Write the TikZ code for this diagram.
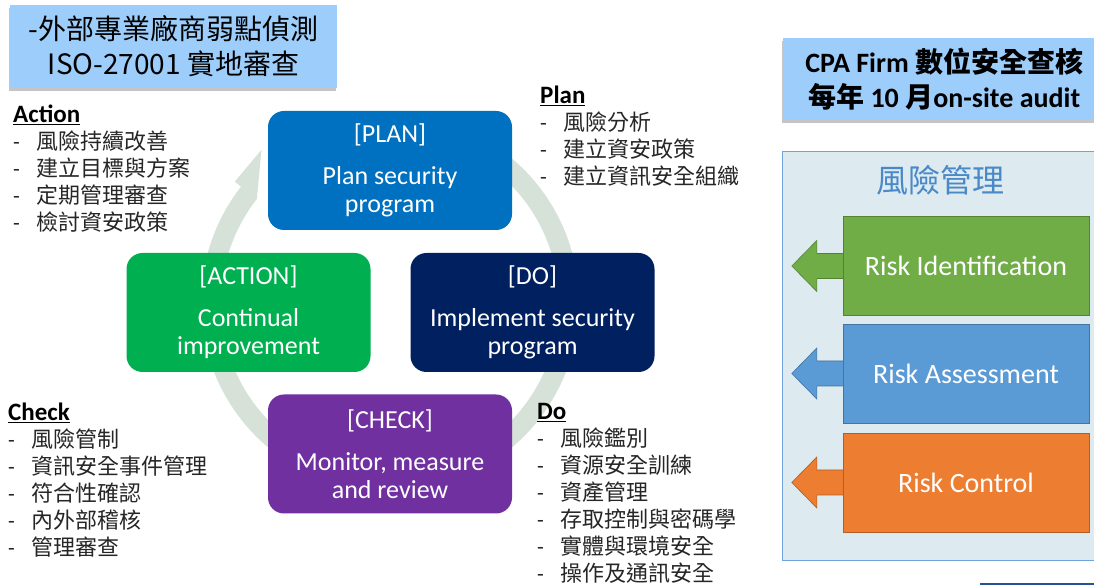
\documentclass[tikz,border=0pt]{standalone}
\usepackage{fontspec}
\setmainfont{Carlito}
\newfontfamily\cjk{Noto Sans CJK TC}
\usetikzlibrary{shapes,shadows}

\definecolor{planblue}{RGB}{0,112,192}
\definecolor{donavy}{RGB}{0,32,96}
\definecolor{actgreen}{RGB}{0,176,80}
\definecolor{chkpurple}{RGB}{112,48,160}
\definecolor{ringgray}{RGB}{214,225,216}
\definecolor{titleblue}{RGB}{157,205,250}
\definecolor{panelbg}{RGB}{221,234,240}
\definecolor{panelline}{RGB}{110,165,220}
\definecolor{mgmtblue}{RGB}{74,137,200}
\definecolor{riskgreen}{RGB}{112,173,71}
\definecolor{riskblue}{RGB}{91,155,213}
\definecolor{riskorange}{RGB}{237,125,49}
\definecolor{edgeblue}{RGB}{36,84,150}

\tikzset{
  pdca/.style={rounded corners=16pt, minimum width=244pt, minimum height=119pt,
    align=center, text=white, font=\fontsize{26}{28}\selectfont},
  riskbox/.style={minimum width=246pt, minimum height=99pt, text=white,
    font=\fontsize{28}{30}\selectfont},
  titlebox/.style={fill=titleblue, align=center, inner sep=0pt,
    drop shadow={shadow xshift=-1pt, shadow yshift=-3pt, fill=black!45}},
  listhead/.style={anchor=base west, inner sep=0pt, font=\bfseries\fontsize{25}{28}\selectfont},
  listitem/.style={anchor=base west, inner sep=0pt, text=black!85,
    font=\fontsize{22}{27}\selectfont}
}

\newcommand\itm[1]{\makebox[23pt][l]{-}{\cjk #1}}
\newcommand\riskarrow[2]{%
  \path[fill=#2, draw=#2!75!black, line width=0.6pt]
    ([yshift=12.5pt]#1.west) -- ++(-26,0) -- ++(0,13) -- ([xshift=-51pt]#1.west)
    -- ++(25,-25.5) -- ++(0,13) -- ([yshift=-12.5pt]#1.west);}

\begin{document}
\begin{tikzpicture}[x=1pt, y=1pt]
\useasboundingbox (0,0) rectangle (1094,585);
\fill[white] (0,0) rectangle (1094,585);

% titles
\node[titlebox, minimum width=327pt, minimum height=83pt,
  font=\cjk\fontsize{28}{35}\selectfont] (isotitle) at (173.5,538.5)
  {-外部專業廠商弱點偵測\\ISO-27001 實地審查};
\node[titlebox, minimum width=322pt, minimum height=82pt, anchor=west,
  font=\bfseries\fontsize{28}{35}\selectfont] (cpatitle) at (783,506)
  {CPA Firm {\cjk 數位安全查核}\\{\cjk 每年} 10 {\cjk 月}on-site audit};

% cycle ring
\begin{scope}[shift={(390,282)}]
  \fill[ringgray] (60:189) arc[start angle=60, end angle=-218, radius=189]
    -- (142:197) -- (130:200) -- (142:169)
    arc[start angle=-218, end angle=60, radius=169] -- cycle;
\end{scope}

% PDCA boxes
\node[pdca, fill=planblue] (plan) at (390,414.5) {[PLAN]\\[14pt]Plan security\\program};
\node[pdca, fill=donavy] (do) at (532.5,272.5) {[DO]\\[14pt]Implement security\\program};
\node[pdca, fill=actgreen] (action) at (248.5,272.5) {[ACTION]\\[14pt]Continual\\improvement};
\node[pdca, fill=chkpurple] (check) at (390,131) {[CHECK]\\[14pt]Monitor, measure\\and review};

% lists
\node[listhead] (acthd) at (13,462) {\underline{Action}};
\foreach \txt [count=\i] in {風險持續改善,建立目標與方案,定期管理審查,檢討資安政策}
  \node[listitem] (act\i) at (13,462-27*\i) {\itm{\txt}};

\node[listhead] (planhd) at (540,481) {\underline{Plan}};
\foreach \txt [count=\i] in {風險分析,建立資安政策,建立資訊安全組織}
  \node[listitem] (plan\i) at (540,481-27*\i) {\itm{\txt}};

\node[listhead] (chkhd) at (8,164) {\underline{Check}};
\foreach \txt [count=\i] in {風險管制,資訊安全事件管理,符合性確認,內外部稽核,管理審查}
  \node[listitem] (chk\i) at (8,164-27*\i) {\itm{\txt}};

\node[listhead] (dohd) at (537,165) {\underline{Do}};
\foreach \txt [count=\i] in {風險鑑別,資源安全訓練,資產管理,存取控制與密碼學,實體與環境安全,操作及通訊安全}
  \node[listitem] (do\i) at (537,165-27*\i) {\itm{\txt}};

% risk management panel
\draw[panelline, fill=panelbg, line width=0.8pt] (782,25) rectangle (1100,434);
\node[text=mgmtblue, font=\cjk\fontsize{32}{36}\selectfont] (mgmt) at (940,405) {風險管理};
\node[riskbox, fill=riskgreen, draw=riskgreen!75!black] (ident) at (966,319) {Risk Identification};
\node[riskbox, fill=riskblue, draw=riskblue!75!black] (assess) at (966,211.5) {Risk Assessment};
\node[riskbox, fill=riskorange, draw=riskorange!75!black] (control) at (966,102.5) {Risk Control};
\riskarrow{ident}{riskgreen}
\riskarrow{assess}{riskblue}
\riskarrow{control}{riskorange}

\fill[edgeblue] (980,-20) rectangle (1100,2);
\end{tikzpicture}
\end{document}
